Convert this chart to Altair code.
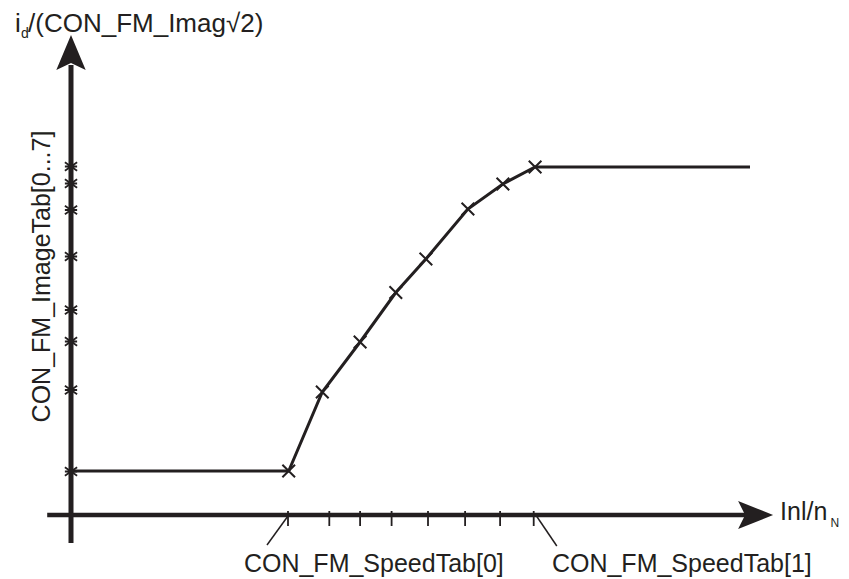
import altair as alt
import pandas as pd

INK = "#231f20"
FONT = "Liberation Sans"

# ---- data (arbitrary units: speed on x, ImageTab on y) ----
speed_tab = [3.11, 3.59, 4.13, 4.64, 5.07, 5.67, 6.17, 6.63]
image_tab = [0.88, 2.46, 3.46, 4.45, 5.12, 6.12, 6.62, 6.96]
curve_x_start = 0.0
curve_x_end = 9.70

y_axis_marks = [0.87, 2.50, 3.47, 4.10, 5.17, 6.10, 6.63, 6.97]
x_axis_marks = [3.10, 3.69, 4.13, 4.58, 5.10, 5.63, 6.13, 6.61]

# axis extents (data units)
y_axis_span = [-0.56, 9.0]
x_axis_span = [-0.34, 9.63]
y_arrow_pos = [0.0, 9.25]
x_arrow_pos = [9.78, 0.0]

# leader lines from axis marks to labels
leader_x = [3.11, 6.64]
leader_x2 = [2.80, 6.94]
leader_y2 = [-0.60, -0.62]

X_DOMAIN = [-0.9, 11.0]
Y_DOMAIN = [-1.28, 10.14]

W, H = 833, 571


def X(field="x"):
    return alt.X(f"{field}:Q", scale=alt.Scale(domain=X_DOMAIN, nice=False, zero=False), axis=None)


def Y(field="y"):
    return alt.Y(f"{field}:Q", scale=alt.Scale(domain=Y_DOMAIN, nice=False, zero=False), axis=None)


# curve
curve_df = pd.DataFrame({
    "x": [curve_x_start] + speed_tab + [curve_x_end],
    "y": [image_tab[0]] + image_tab + [image_tab[-1]],
    "o": list(range(len(speed_tab) + 2)),
})
pts_df = pd.DataFrame({"x": speed_tab, "y": image_tab})
ymarks_df = pd.DataFrame({"x": [0.0] * len(y_axis_marks), "y": y_axis_marks})
xmarks_df = pd.DataFrame({"x": x_axis_marks, "y": [0.08] * len(x_axis_marks), "y2": [-0.22] * len(x_axis_marks)})

yaxis_df = pd.DataFrame({"x": [0.0], "y": [y_axis_span[0]], "y2": [y_axis_span[1]]})
xaxis_df = pd.DataFrame({"x": [x_axis_span[0]], "x2": [x_axis_span[1]], "y": [0.0]})
leader_df = pd.DataFrame({"x": leader_x, "x2": leader_x2, "y": [0.0, 0.0], "y2": leader_y2})

XSHAPE = "M-1,-1L1,1M-1,1L1,-1"
YMARK = "M-1,-0.7L1,0.7M-1,0.7L1,-0.7M-1,0L1,0"
UP_ARROW = "M0,-1L0.84,1L0,0.6L-0.84,1Z"
RIGHT_ARROW = "M1,0L-1,0.8L-0.6,0L-1,-0.8Z"

line = alt.Chart(curve_df).mark_line(color=INK, strokeWidth=3).encode(x=X(), y=Y(), order="o:Q")
pts = alt.Chart(pts_df).mark_point(shape=XSHAPE, size=160, filled=False, color=INK, strokeWidth=2, opacity=1).encode(x=X(), y=Y())
ymarks = alt.Chart(ymarks_df).mark_point(shape=YMARK, size=150, filled=False, color=INK, strokeWidth=1.8, opacity=1).encode(x=X(), y=Y())
xmarks = alt.Chart(xmarks_df).mark_rule(color=INK, strokeWidth=1.8).encode(x=X(), y=Y(), y2="y2:Q")

yaxis = alt.Chart(yaxis_df).mark_rule(color=INK, strokeWidth=5).encode(x=X(), y=Y(), y2="y2:Q")
xaxis = alt.Chart(xaxis_df).mark_rule(color=INK, strokeWidth=4.5).encode(x=X(), x2="x2:Q", y=Y())
leaders = alt.Chart(leader_df).mark_rule(color=INK, strokeWidth=1.5).encode(x=X(), x2="x2:Q", y=Y(), y2="y2:Q")

yarrow = alt.Chart(pd.DataFrame({"x": [y_arrow_pos[0]], "y": [y_arrow_pos[1]]})).mark_point(
    shape=UP_ARROW, size=1225, filled=True, fill=INK, strokeWidth=0, opacity=1).encode(x=X(), y=Y())
xarrow = alt.Chart(pd.DataFrame({"x": [x_arrow_pos[0]], "y": [x_arrow_pos[1]]})).mark_point(
    shape=RIGHT_ARROW, size=1225, filled=True, fill=INK, strokeWidth=0, opacity=1).encode(x=X(), y=Y())

# text labels
labels_df = pd.DataFrame({
    "text": ["i", "d", "/(CON_FM_Imag\u221a2)", "Inl/n", "N", "CON_FM_SpeedTab[0]", "CON_FM_SpeedTab[1]"],
    "x": [-0.80, -0.714, -0.614, 10.13, 10.85, 2.47, 6.87],
    "y": [9.67, 9.54, 9.67, -0.10, -0.24, -1.14, -1.14],
    "size": [26, 14, 26, 25, 12, 25, 25],
})
labels = alt.Chart(labels_df).mark_text(align="left", baseline="alphabetic", font=FONT, color=INK).encode(
    x=X(), y=Y(), text="text:N", size=alt.Size("size:Q", scale=None, legend=None))

ylab = alt.Chart(pd.DataFrame({"x": [-0.30], "y": [4.77], "text": ["CON_FM_ImageTab[0...7]"]})).mark_text(
    align="center", baseline="alphabetic", angle=270, font=FONT, fontSize=25, color=INK).encode(
    x=X(), y=Y(), text="text:N")

chart = alt.layer(yaxis, xaxis, xmarks, leaders, line, pts, ymarks, yarrow, xarrow, labels, ylab).properties(
    width=W, height=H, padding=0, autosize=alt.AutoSizeParams(type="none"),
    background="white",
).configure_view(stroke=None)

chart.save("out.html", embed_options={"renderer": "svg", "actions": False})
